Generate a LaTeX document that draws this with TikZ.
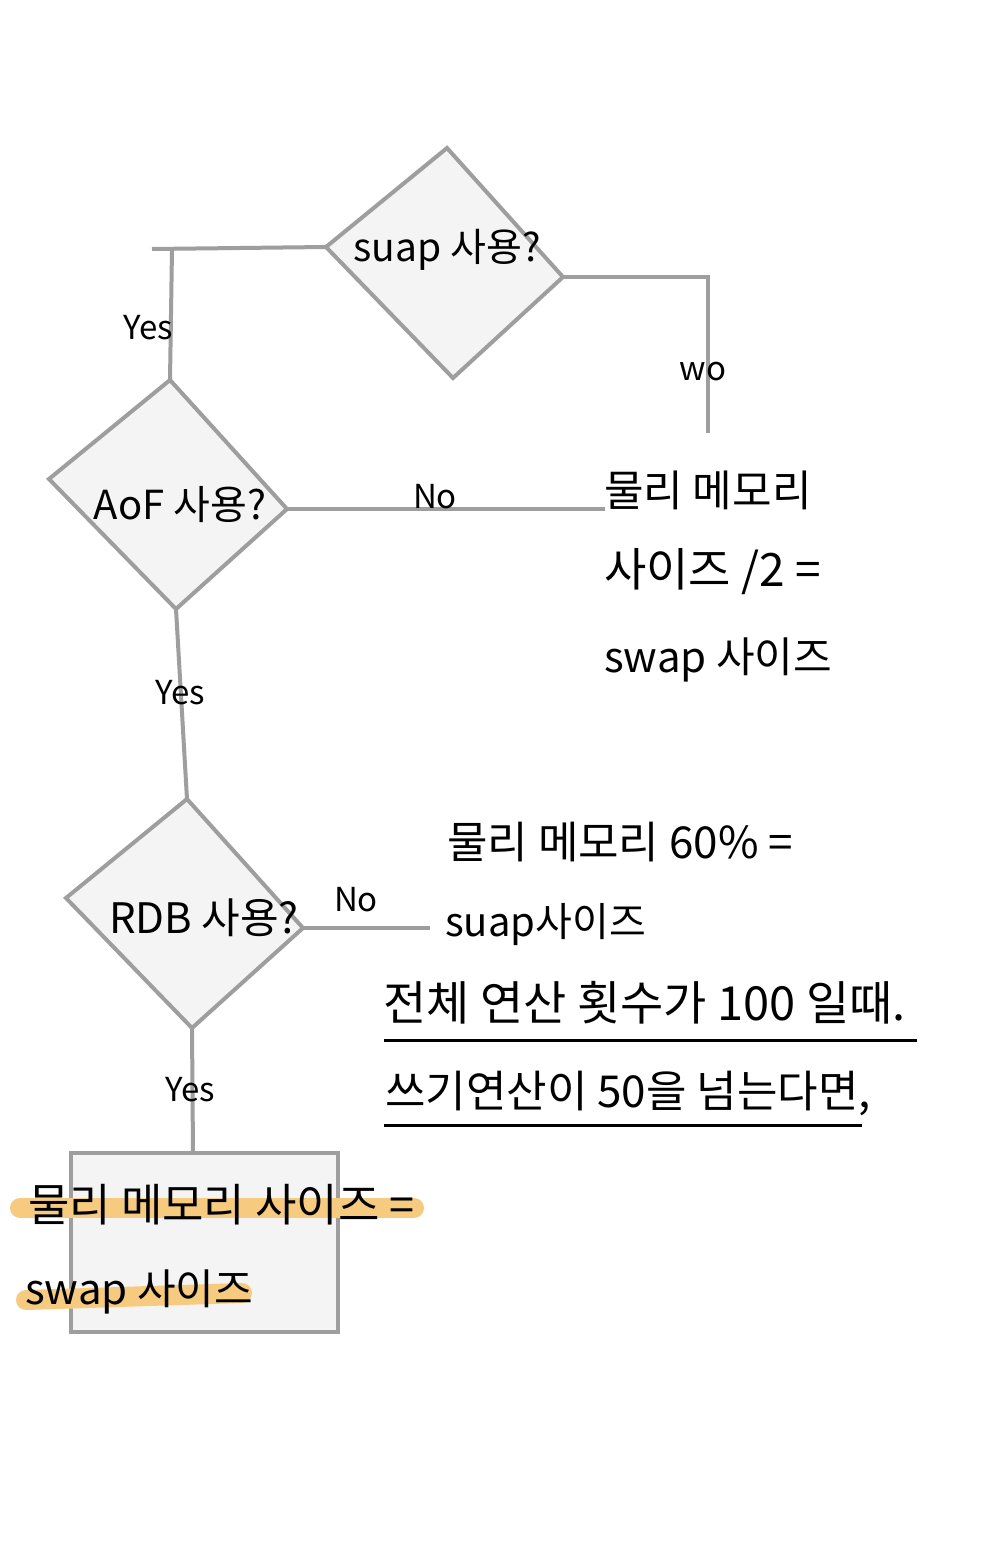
\documentclass[tikz,border=0pt]{standalone}
\usepackage{fontspec}
\setmainfont{Noto Sans CJK KR}
\definecolor{linegray}{RGB}{158,158,158}
\definecolor{boxfill}{RGB}{244,244,244}
\definecolor{hlorange}{RGB}{246,203,127}
\newcommand{\fsz}[1]{\fontsize{#1}{#1}\selectfont}
\begin{document}
\begin{tikzpicture}[x=1pt,y=-1pt,
  shapeline/.style={draw=linegray, line width=4pt, fill=boxfill},
  conn/.style={draw=linegray, line width=4pt},
  dtxt/.style={font=\fsz{40}, inner sep=0pt},
  btxt/.style={font=\fsz{42}, inner sep=0pt, anchor=west},
  lbl/.style={font=\fsz{33}, inner sep=0pt},
  uline/.style={draw=black, line width=3pt},
  hl/.style={draw=hlorange, line width=20pt, line cap=round}]
\useasboundingbox (0,0) rectangle (1000,1550);
\fill[white] (0,0) rectangle (1000,1550);

% ---- diamond 1: swap?
\coordinate (d1t) at (447,148);
\coordinate (d1r) at (563,277);
\coordinate (d1b) at (453,378);
\coordinate (d1l) at (326,247);
\draw[shapeline] (d1t) -- (d1r) -- (d1b) -- (d1l) -- cycle;
\node[dtxt, font=\fsz{39}] (d1) at (447,250) {suap 사용?};

% ---- diamond 2: AoF?
\coordinate (d2t) at (170,380);
\coordinate (d2r) at (287,509);
\coordinate (d2b) at (176,609);
\coordinate (d2l) at (49,479);
\draw[shapeline] (d2t) -- (d2r) -- (d2b) -- (d2l) -- cycle;
\node[dtxt] (d2) at (180,505) {AoF 사용?};

% ---- diamond 3: RDB?
\coordinate (d3t) at (187,799);
\coordinate (d3r) at (303,928);
\coordinate (d3b) at (192,1028);
\coordinate (d3l) at (66,898);
\draw[shapeline] (d3t) -- (d3r) -- (d3b) -- (d3l) -- cycle;
\node[dtxt, font=\fsz{42}] (d3) at (204,918) {RDB 사용?};

% ---- result box
\node[shapeline, minimum width=267pt, minimum height=179pt, inner sep=0pt] (box) at (204.5,1242.5) {};
\draw[hl] (20,1208) -- (414,1208);
\draw[hl] (26,1300) -- (242,1293);
\node[btxt, font=\fsz{45}] (b1) at (28,1205) {물리 메모리 사이즈 =};
\node[btxt] (b2) at (25,1292) {swap 사이즈};

% ---- right texts
\node[btxt, font=\fsz{43}] (t1a) at (604,490) {물리 메모리};
\node[btxt, font=\fsz{46}] (t1b) at (604,572) {사이즈 /2 =};
\node[btxt] (t1c) at (604,660) {swap 사이즈};

\node[btxt, font=\fsz{44}] (t2a) at (447,842) {물리 메모리 60\% =};
\node[btxt, font=\fsz{40}] (t2b) at (445,925) {suap사이즈};

\node[btxt, font=\fsz{47}] (t3a) at (383,1003) {전체 연산 횟수가 100 일때.};
\node[btxt, font=\fsz{44}] (t3b) at (385,1093) {쓰기연산이 50을 넘는다면,};
\coordinate (u1a) at (384,1040);
\coordinate (u1b) at (917,1040);
\coordinate (u2a) at (384,1125);
\coordinate (u2b) at (862,1125);
\draw[uline] (u1a) -- (u1b);
\draw[uline] (u2a) -- (u2b);

% ---- connectors
\coordinate (c1) at (152,249);
\coordinate (c1k) at (172,249);
\draw[conn] (d1l) -- (c1);
\draw[conn] (c1k) -- (d2t);

\coordinate (c2) at (708,277);
\coordinate (c3) at (708,433);
\draw[conn] (d1r) -- (c2) -- (c3);

\coordinate (c4) at (605,509);
\draw[conn] (d2r) -- (c4);

\draw[conn] (d2b) -- (d3t);

\coordinate (c5) at (430,928);
\draw[conn] (d3r) -- (c5);

\coordinate (c6) at (193,1153);
\draw[conn] (d3b) -- (c6);

% ---- labels
\node[lbl] (l1) at (148,328) {Yes};
\node[lbl] (l2) at (703,372) {wo};
\node[lbl] (l3) at (435,497) {No};
\node[lbl] (l4) at (180,693) {Yes};
\node[lbl] (l5) at (356,900) {No};
\node[lbl] (l6) at (190,1090) {Yes};
\end{tikzpicture}
\end{document}
